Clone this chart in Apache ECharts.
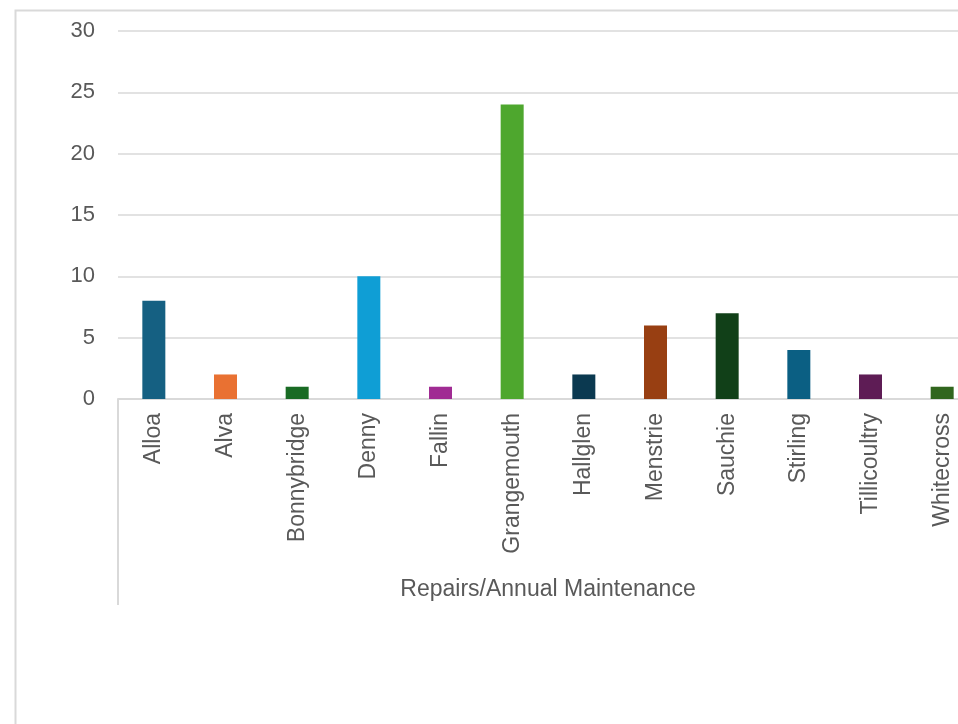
<!DOCTYPE html>
<html>
<head>
<meta charset="utf-8">
<script src="https://cdn.jsdelivr.net/npm/echarts@6/dist/echarts.min.js"></script>
<style>
html,body{margin:0;padding:0;background:#fff;overflow:hidden;width:958px;height:724px;}
#chart{width:980px;height:724px;}
</style>
</head>
<body>
<div id="chart"></div>
<script>
var categories = ["Alloa","Alva","Bonnybridge","Denny","Fallin","Grangemouth","Hallglen","Menstrie","Sauchie","Stirling","Tillicoultry","Whitecross"];
var values = [8,2,1,10,1,24,2,6,7,4,2,1];
var barColors = ["#156082","#E97132","#196B24","#0F9ED5","#A02B93","#4EA72E","#0B3950","#983F12","#114018","#0B5F83","#5E1C55","#31661E"];
var groupLabels = ["Repairs/Annual Maintenance"];
var yTicks = {min:0, max:30, interval:5};

var FONT = "'Liberation Sans', Arial, sans-serif";
var chart = echarts.init(document.getElementById('chart'), null, {renderer:'canvas'});
chart.setOption({
  animation:false,
  backgroundColor:'#ffffff',
  textStyle:{fontFamily:FONT},
  graphic:[{
    type:'rect',
    shape:{x:15.5,y:10.5,width:1200,height:1200},
    style:{fill:'none',stroke:'#D9D9D9',lineWidth:2},
    silent:true,
    z:-10
  }],
  grid:{left:118, top:31, right:2, height:368, containLabel:false},
  xAxis:[{
    type:'category',
    data:categories,
    position:'bottom',
    axisLine:{show:true,lineStyle:{color:'#D9D9D9',width:2}},
    axisTick:{show:false},
    axisLabel:{rotate:90,margin:14,color:'#595959',fontSize:23,fontFamily:FONT,interval:0}
  },{
    type:'category',
    data:groupLabels,
    position:'bottom',
    axisLine:{show:false},
    axisTick:{show:true,alignWithLabel:false,length:206,lineStyle:{color:'#D9D9D9',width:2}},
    axisLabel:{margin:179,color:'#595959',fontSize:23,fontFamily:FONT,interval:0}
  }],
  yAxis:{
    type:'value',
    min:yTicks.min,max:yTicks.max,interval:yTicks.interval,
    axisLine:{show:false},
    axisTick:{show:false},
    axisLabel:{margin:23,color:'#595959',fontSize:22,fontFamily:FONT},
    splitLine:{show:true,lineStyle:{color:'#D9D9D9',width:1.5}}
  },
  series:[{
    type:'bar',
    xAxisIndex:0,
    barWidth:23,
    data:values.map(function(v,i){return {value:v,itemStyle:{color:barColors[i]}};})
  }]
});
</script>
</body>
</html>
